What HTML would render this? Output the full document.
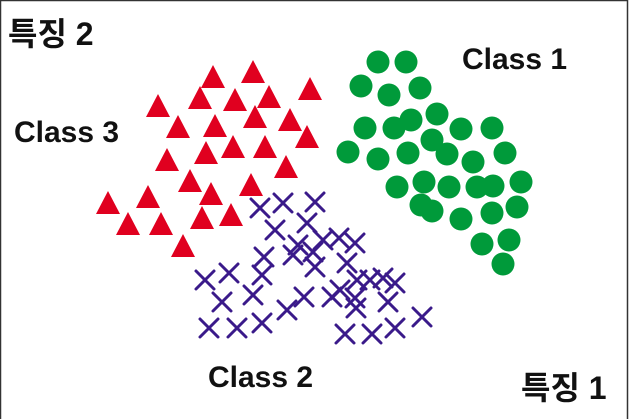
<!DOCTYPE html>
<html><head><meta charset="utf-8">
<style>
html,body{margin:0;padding:0;background:#fff;}
#wrap{position:relative;width:629px;height:419px;overflow:hidden;}
svg{position:absolute;left:0;top:0;}
text{font-family:"Liberation Sans","Noto Sans CJK KR",sans-serif;font-weight:bold;fill:#111;}
</style></head>
<body>
<div id="wrap">
<svg id="chart" width="629" height="419">
  <rect x="0.5" y="0.5" width="627" height="430" fill="none" stroke="#333" stroke-width="1.5"/>
  <text x="8" y="45" font-size="32">특징 2</text>
  <text x="521" y="399" font-size="32">특징 1</text>
  <text x="462" y="69" font-size="30">Class 1</text>
  <text x="14" y="142" font-size="30">Class 3</text>
  <text x="208" y="387" font-size="30">Class 2</text>
  <g id="marks"></g>
</svg>
</div>
<script>
// feature values (feature 1 horizontal, feature 2 vertical)
const class1F1 = [37.8,40.6,36.1,38.9,42.0,36.5,39.4,41.1,43.7,46.1,49.2,34.8,37.8,40.8,43.2,44.7,47.3,50.5,39.7,42.4,44.9,47.7,49.3,52.1,42.1,43.2,46.1,49.2,51.7,48.2,50.9,50.3];
const class1F2 = [35.7,35.7,33.3,32.4,33.1,29.1,29.1,29.9,30.5,29.0,29.1,26.7,26.0,26.6,27.9,26.5,25.7,26.6,23.2,23.7,23.2,23.2,23.3,23.7,21.4,20.8,20.0,20.6,21.2,17.5,17.9,15.5];
const class3F1 = [21.3,25.3,31.0,15.8,20.0,23.5,26.9,17.8,21.5,25.5,29.0,30.7,16.7,20.6,23.3,26.5,28.6,19.0,21.1,25.1,10.8,14.8,12.8,16.1,20.2,23.1,18.3];
const class3F2 = [34.2,34.7,33.0,31.3,32.1,31.9,32.2,29.2,29.3,30.2,29.9,28.2,25.9,26.6,27.2,27.2,25.2,23.8,22.5,23.4,21.6,22.2,19.5,19.5,20.1,20.4,17.3];
const class2F1 = [26.0,28.3,31.5,27.5,30.7,29.8,32.3,33.9,35.5,26.4,29.3,31.5,31.3,34.7,20.5,22.9,26.2,34.0,35.7,37.0,38.3,39.5,22.2,25.3,30.4,33.2,35.5,38.8,28.7,26.2,35.6,20.9,23.7,42.2,34.5,37.2,39.5];
const class2F2 = [21.1,21.6,21.7,18.9,19.6,17.4,17.9,18.1,17.6,16.2,16.4,15.2,16.7,15.6,13.9,14.6,14.4,12.9,13.9,13.9,14.1,13.6,11.7,12.4,12.2,12.2,12.1,11.7,10.9,9.6,11.1,9.1,9.1,10.2,8.5,8.5,9.1];

function xScale(v){ return v*10; }
function yScale(v){ return 419 - v*10; }
const NS = "http://www.w3.org/2000/svg";
const g = document.getElementById('marks');

for(let i=0;i<class3F1.length;i++){
  const cx=xScale(class3F1[i]), cy=yScale(class3F2[i]);
  const p=document.createElementNS(NS,'polygon');
  p.setAttribute('points',`${cx},${cy-12} ${cx+12},${cy+11} ${cx-12},${cy+11}`);
  p.setAttribute('fill','#e0001f');
  
  
  g.appendChild(p);
}
for(let i=0;i<class2F1.length;i++){
  const cx=xScale(class2F1[i]), cy=yScale(class2F2[i]);
  const p=document.createElementNS(NS,'path');
  p.setAttribute('d',`M${cx-9},${cy-9}L${cx+9},${cy+9}M${cx+9},${cy-9}L${cx-9},${cy+9}`);
  p.setAttribute('stroke','#3a1a8a');
  p.setAttribute('stroke-width','3');
  p.setAttribute('stroke-linecap','round');
  p.setAttribute('fill','none');
  
  
  g.appendChild(p);
}
for(let i=0;i<class1F1.length;i++){
  const c=document.createElementNS(NS,'circle');
  c.setAttribute('cx',xScale(class1F1[i]));
  c.setAttribute('cy',yScale(class1F2[i]));
  c.setAttribute('r','11.5');
  c.setAttribute('fill','#009a3a');
  
  
  g.appendChild(c);
}
</script>
</body></html>
